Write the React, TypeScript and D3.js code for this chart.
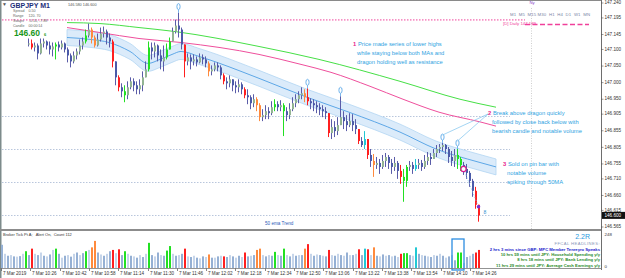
import * as d3 from 'd3';

// ---- data ----
const firstOpen = 147.115;
const closes = [
  147.118, 147.106, 147.112, 147.088, 147.118, 147.124, 147.112, 147.100, 147.109, 147.115,
  147.106, 147.118, 147.100, 147.082, 147.064, 147.082, 147.094, 147.112, 147.124, 147.142,
  147.160, 147.136, 147.112, 147.130, 147.148, 147.154, 147.136, 147.124, 147.064, 147.016,
  146.986, 146.974, 146.962, 146.986, 147.004, 146.992, 146.980, 146.992, 147.016, 147.040,
  147.106, 147.094, 147.112, 147.082, 147.064, 147.076, 147.100, 147.124, 147.154, 147.172,
  147.160, 147.115, 147.064, 147.076, 147.064, 147.070, 147.061, 147.076, 147.070, 147.058,
  147.034, 147.040, 147.052, 147.046, 147.022, 147.004, 146.998, 147.010, 146.992, 146.986,
  146.995, 146.980, 146.962, 146.956, 146.938, 146.950, 146.932, 146.896, 146.902, 146.914,
  146.908, 146.926, 146.935, 146.926, 146.932, 146.914, 146.902, 146.920, 146.938, 146.950,
  146.962, 146.968, 146.956, 146.944, 146.938, 146.932, 146.926, 146.920, 146.914, 146.908,
  146.848, 146.866, 146.854, 146.872, 146.896, 146.884, 146.872, 146.884, 146.872, 146.860,
  146.824, 146.812, 146.830, 146.782, 146.764, 146.752, 146.758, 146.746, 146.764, 146.776,
  146.758, 146.746, 146.758, 146.734, 146.716, 146.704, 146.746, 146.752, 146.740, 146.752,
  146.758, 146.746, 146.764, 146.776, 146.770, 146.788, 146.800, 146.806, 146.812, 146.800,
  146.776, 146.764, 146.782, 146.770, 146.752, 146.740, 146.728, 146.704, 146.674, 146.632,
  146.600,
];
const highs = [
  147.133, 147.130, 147.121, 147.118, 147.133, 147.133, 147.127, 147.124, 147.121, 147.121,
  147.124, 147.127, 147.121, 147.106, 147.088, 147.094, 147.103, 147.130, 147.136, 147.160,
  147.178, 147.166, 147.142, 147.148, 147.166, 147.169, 147.160, 147.148, 147.130, 147.064,
  147.022, 146.998, 146.992, 147.004, 147.016, 147.013, 147.004, 147.010, 147.034, 147.064,
  147.124, 147.121, 147.121, 147.115, 147.100, 147.112, 147.118, 147.136, 147.166, 147.190,
  147.211, 147.166, 147.115, 147.088, 147.085, 147.085, 147.079, 147.088, 147.085, 147.079,
  147.064, 147.052, 147.061, 147.061, 147.052, 147.028, 147.016, 147.022, 147.010, 147.004,
  147.010, 147.001, 146.986, 146.980, 146.962, 146.965, 146.956, 146.938, 146.920, 146.932,
  146.926, 146.944, 146.950, 146.944, 146.947, 146.938, 146.926, 146.938, 146.956, 146.965,
  146.974, 146.986, 146.980, 146.983, 146.953, 146.950, 146.944, 146.938, 146.932, 146.926,
  146.908, 146.890, 146.884, 146.896, 146.959, 146.914, 146.902, 146.908, 146.905, 146.890,
  146.860, 146.836, 146.854, 146.830, 146.800, 146.785, 146.776, 146.770, 146.782, 146.788,
  146.782, 146.770, 146.776, 146.764, 146.752, 146.740, 146.752, 146.764, 146.761, 146.770,
  146.770, 146.767, 146.782, 146.791, 146.788, 146.800, 146.812, 146.815, 146.818, 146.815,
  146.806, 146.794, 146.800, 146.800, 146.776, 146.761, 146.755, 146.734, 146.710, 146.686,
  146.626,
];
const lows = [
  147.109, 147.100, 147.094, 147.070, 147.085, 147.106, 147.100, 147.085, 147.079, 147.070,
  147.094, 147.100, 147.091, 147.061, 147.046, 147.058, 147.070, 147.085, 147.100, 147.118,
  147.136, 147.118, 147.106, 147.109, 147.124, 147.136, 147.115, 147.106, 147.046, 146.992,
  146.974, 146.956, 146.941, 146.950, 146.980, 146.974, 146.965, 146.965, 146.974, 147.022,
  147.034, 147.070, 147.076, 147.064, 147.040, 147.034, 147.070, 147.100, 147.124, 147.148,
  147.136, 147.100, 147.016, 147.052, 147.040, 147.052, 147.049, 147.058, 147.055, 147.046,
  147.019, 147.022, 147.034, 147.034, 147.010, 146.995, 146.980, 146.986, 146.974, 146.968,
  146.971, 146.965, 146.953, 146.935, 146.920, 146.926, 146.914, 146.884, 146.884, 146.890,
  146.890, 146.902, 146.914, 146.914, 146.914, 146.839, 146.884, 146.890, 146.914, 146.926,
  146.938, 146.950, 146.941, 146.932, 146.920, 146.914, 146.908, 146.902, 146.896, 146.890,
  146.836, 146.830, 146.836, 146.842, 146.878, 146.860, 146.854, 146.866, 146.854, 146.845,
  146.815, 146.806, 146.800, 146.770, 146.746, 146.716, 146.740, 146.725, 146.740, 146.746,
  146.740, 146.725, 146.734, 146.710, 146.695, 146.641, 146.686, 146.734, 146.725, 146.734,
  146.740, 146.734, 146.740, 146.752, 146.752, 146.770, 146.776, 146.788, 146.794, 146.785,
  146.758, 146.749, 146.746, 146.740, 146.734, 146.722, 146.710, 146.686, 146.656, 146.620,
  146.581,
];
// candles start at bar 9, earlier bars sit under the info panel
const firstCandleBar = 9;

const volumes = [
  180, 110, 95, 100, 90, 88, 92, 110, 130, 100,
  150, 110, 100, 120, 95, 90, 105, 140, 150, 110,
  80, 95, 100, 88, 110, 120, 100, 115, 130, 140,
  160, 210, 120, 105, 95, 110, 130, 140, 115, 145,
  100, 130, 110, 95, 90, 80, 100, 85, 110, 195,
  100, 90, 120, 100, 95, 135, 170, 110, 95, 100,
  110, 150, 90, 85, 95, 80, 75, 90, 85, 105,
  80, 80, 90, 95, 90, 85, 100, 90, 80, 95,
  85, 120, 90, 95, 100, 140, 150, 100, 90, 100,
  95, 125, 100, 95, 150, 100, 90, 110, 95, 100,
  100, 150, 185, 110, 95, 105, 100, 95, 90, 140,
  100, 95, 110, 100, 95, 120, 100, 100, 110, 145,
  100, 150, 145, 100, 160, 95, 90, 105, 95, 100,
  90, 95, 85, 110, 115, 115, 100, 95, 160, 110,
  100, 95, 90, 85, 100, 95, 110, 95, 80, 90,
  100, 60, 120, 120, 40, 85, 95, 110, 120, 140,
];
// a/b plain volume, r/g/o/c highlighted bars (also colours the candle)
const barTypes = (
  'ababababga' + 'rbabababga' + 'babababagb' + 'ooababarbr' + 'agbabababg' +
  'ababaggbab' + 'arbabababo' + 'ababrababa' + 'brabaoobab' + 'agbagbabab' +
  'aorbababar' + 'bababababr' + 'acrboababa' + 'babrggabca' + 'bababababa' +
  'baggbabarr'
).split('');

const greenMaBars = [13, 24, 37, 49, 77, 97, 124, 144, 156];
const greenMa = [147.181, 147.178, 147.166, 147.154, 147.109, 147.070, 147.004, 146.950, 146.926];
const pinkMaBars = [13, 24, 37, 51, 77, 91, 101, 114, 125, 137, 151, 156];
const pinkMa = [147.166, 147.151, 147.133, 147.121, 147.085, 147.055, 147.031, 146.989, 146.950, 146.911, 146.881, 146.869];

const dragonBars = [13, 21, 27, 34, 40, 44, 48, 51, 57, 63, 71, 77, 93, 107, 124, 136, 150, 156];
const dragonMid = [147.136, 147.130, 147.121, 147.094, 147.058, 147.070, 147.085, 147.094, 147.079, 147.061, 147.034, 147.013, 146.956, 146.911, 146.851, 146.800, 146.761, 146.746];
const dragonUpper = [147.160, 147.154, 147.145, 147.118, 147.082, 147.094, 147.109, 147.118, 147.103, 147.085, 147.058, 147.037, 146.980, 146.935, 146.875, 146.824, 146.785, 146.770];
const dragonLower = [147.112, 147.106, 147.097, 147.070, 147.034, 147.046, 147.061, 147.070, 147.055, 147.037, 147.010, 146.989, 146.932, 146.887, 146.827, 146.776, 146.737, 146.722];

const priceTicks = ['147.240', '147.195', '147.145', '147.100', '147.050', '147.000', '146.950', '146.905', '146.855', '146.805', '146.755', '146.710', '146.660', '146.615', '146.565'];
const roundLevels = [146.9, 146.8, 146.7, 146.6];
const dailyLevel = 147.189;
const lastPrice = 146.6;

const timeLabels = ['7 Mar 2019', '7 Mar 10:26', '7 Mar 10:42', '7 Mar 10:58', '7 Mar 11:14', '7 Mar 11:30', '7 Mar 11:46', '7 Mar 12:02', '7 Mar 12:18', '7 Mar 12:34', '7 Mar 12:50', '7 Mar 13:06', '7 Mar 13:22', '7 Mar 13:38', '7 Mar 13:54', '7 Mar 14:10', '7 Mar 14:26'];
const barsPerLabel = 9.77;
const nySessionBar = 176.7;

const fractalCandles = [50, 93, 104, 138, 143];
const pinCandle = 145;
const signalCandle = 150;
const boxBars = [151, 153];

const note1 = ['Price made series of lower highs', 'while staying below both MAs and', 'dragon holding well as resistance'];
const note2 = ['Break above dragon quickly', 'followed by close back below with', 'bearish candle and notable volume'];
const note3 = ['Sold on pin bar with', 'notable volume', 'spiking through 50MA'];
const infoLines = ['Spread    0.50', 'Range     120. 70', 'Swaps     -0.10, -7.88', 'Candle    00:00:14'];
const newsLines = [
  { text: '2 hrs 3 mins since GBP: MPC Member Tenreyro Speaks', color: '#1a1acc' },
  { text: '10 hrs 59 mins until JPY: Household Spending y/y', color: '#2a8a2a' },
  { text: '8 hrs 18 mins until JPY: Bank Lending y/y', color: '#2a8a2a' },
  { text: '11 hrs 29 mins until JPY: Average Cash Earnings y/y', color: '#2a8a2a' },
];
const timeframes = 'M1  M5  M15 M30  H1  H4  D1  W1  MN';

const W = 625;
const H = 278;
const FONT = '"Liberation Sans", Arial, sans-serif';

const special: Record<string, string> = { r: '#ff1f1f', g: '#22e022', o: '#ff8a3d', c: '#22c8d4' };
const volPlain: Record<string, string> = { a: '#95b0d4', b: '#c6d5ea' };

export default function App() {
  const x = d3.scaleLinear().domain([0, 159]).range([1, 478]);
  const y = d3.scaleLinear().domain([146.565, 147.24]).range([227, 3]);
  const v = d3.scaleLinear().domain([0, 248]).range([268, 236]);
  const cx = (bar: number) => Math.round(x(bar));

  const candles = closes.map((c, i) => {
    const bar = i + firstCandleBar;
    const o = i === 0 ? firstOpen : closes[i - 1];
    const t = barTypes[bar];
    const bull = c >= o;
    const col = special[t] || (bull ? '#93b493' : '#4b5aa8');
    return {
      bar, x: cx(bar),
      yH: y(Math.max(highs[i], o, c)), yL: y(Math.min(lows[i], o, c)),
      yT: y(Math.max(o, c)), yB: y(Math.min(o, c)),
      body: col, wick: special[t] || '#5a5ca8',
    };
  });

  const maLine = (bars: number[], vals: number[]) =>
    d3.line<number>().x((_, k) => x(bars[k] + firstCandleBar)).y((d) => y(d)).curve(d3.curveMonotoneX)(vals) || '';
  const band = d3.area<number>()
    .x((_, k) => x(dragonBars[k] + firstCandleBar))
    .y0((_, k) => y(dragonLower[k]))
    .y1((d) => y(d))
    .curve(d3.curveMonotoneX)(dragonUpper) || '';

  const fractals = fractalCandles.map((i) => ({ x: cx(i + firstCandleBar) + 0.5, y: y(highs[i]) }));
  const pin = { x: cx(pinCandle + firstCandleBar) + 0.5, y: y(closes[pinCandle]) };
  const sig = { x: cx(signalCandle + firstCandleBar) + 0.5, y: y(highs[signalCandle]) };
  const nyX = Math.round(x(nySessionBar)) + 0.5;
  const boxX0 = x(boxBars[0]) - 2;
  const boxX1 = x(boxBars[1]) + 4;

  const noteColor = '#2fa3df';
  const numColor = '#e8208a';

  return (
    <svg width={W} height={H} style={{ position: 'fixed', left: 0, top: 0, background: '#fff' }} fontFamily={FONT}>
      {/* round number levels */}
      {roundLevels.map((p) => (
        <line key={p} x1={2} x2={510} y1={Math.round(y(p)) + 0.5} y2={Math.round(y(p)) + 0.5}
          stroke="#b9c6dc" strokeDasharray="1.5,1.5" />
      ))}
      <line x1={2} x2={525} y1={y(dailyLevel)} y2={y(dailyLevel)} stroke="#f0409a" strokeDasharray="1.5,1.5" />
      <line x1={nyX} x2={nyX} y1={8} y2={229} stroke="#cfcfcf" strokeDasharray="1,1.5" />

      {/* dragon */}
      <path d={band} fill="#dbebfa" stroke="#b3d5f3" strokeWidth={0.8} />
      <path d={maLine(dragonBars, dragonMid)} fill="none" stroke="#4f9fe4" strokeWidth={0.9} />
      <path d={maLine(greenMaBars, greenMa)} fill="none" stroke="#46e046" strokeWidth={1} />
      <path d={maLine(pinkMaBars, pinkMa)} fill="none" stroke="#ef4f9c" strokeWidth={1} />

      {/* candles */}
      {candles.map((c) => (
        <g key={c.bar}>
          <line x1={c.x + 0.5} x2={c.x + 0.5} y1={c.yH} y2={c.yL} stroke={c.wick} strokeWidth={1} />
          <rect x={c.x} y={c.yT} width={2} height={Math.max(1, c.yB - c.yT)} fill={c.body} />
        </g>
      ))}

      {/* signal markers */}
      {fractals.map((f, k) => (
        <g key={k}>
          <line x1={f.x} x2={f.x} y1={f.y - 3} y2={f.y} stroke="#5aa6e8" strokeWidth={0.8} />
          <ellipse cx={f.x} cy={f.y - 6} rx={1.6} ry={3} fill="#fff" stroke="#4a9fe6" strokeWidth={0.8} />
        </g>
      ))}
      {fractals.slice(3).map((f, k) => (
        <line key={k} x1={488} y1={114} x2={f.x} y2={f.y - 8} stroke="#7cc3ee" strokeWidth={0.7} />
      ))}
      <line x1={pin.x} y1={pin.y} x2={sig.x} y2={sig.y} stroke="#7cc3ee" strokeWidth={0.7} strokeDasharray="1.5,1.5" />
      <circle cx={pin.x} cy={pin.y} r={2.6} fill="#fff" stroke="#d8208e" strokeWidth={1.2} />
      <circle cx={sig.x} cy={sig.y} r={1.8} fill="#7a2fd0" />
      <text x={sig.x + 5} y={sig.y + 7} fontSize={5} fill="#2f8fd0">8</text>

      {/* annotations */}
      {[{ n: '1', lines: note1, x: 353, y: 44 }, { n: '2', lines: note2, x: 488, y: 113 }, { n: '3', lines: note3, x: 503, y: 164 }].map((a) => (
        <g key={a.n} fontSize={5.8}>
          <text x={a.x} y={a.y} fill={numColor} fontWeight="bold" dominantBaseline="middle">{a.n}</text>
          {a.lines.map((l, k) => (
            <text key={k} x={a.x + (k === 0 ? 5 : 4)} y={a.y + k * 9} fill={noteColor} dominantBaseline="middle">{l}</text>
          ))}
        </g>
      ))}
      <text x={265} y={225} fontSize={4.6} fill="#2d5cb8">50 ema Trend</text>

      {/* info panel */}
      <text x={2} y={6} fontSize={5} fill="#555">▼</text>
      <text x={10} y={8} fontSize={7} fontWeight="bold" fill="#1d2f7a">GBPJPY  M1</text>
      <text x={68} y={6} fontSize={3.8} fill="#555">146.580 146.600</text>
      {infoLines.map((l, k) => (
        <text key={k} x={13} y={11.5 + k * 5} fontSize={3.6} fill="#666" xmlSpace="preserve">{l}</text>
      ))}
      <text x={14} y={36} fontSize={8.5} fontWeight="bold" fill="#1a961a">146.60</text>
      <text x={44} y={36} fontSize={4} fontWeight="bold" fill="#1a961a">6</text>

      {/* top-right widgets */}
      <text x={nyX - 2} y={4} fontSize={4.2} fill="#8a3fc8">Ny</text>
      <text x={510} y={16} fontSize={4.3} fill="#7a85a5" textLength={80} xmlSpace="preserve">{timeframes}</text>
      <text x={503} y={25} fontSize={4.3} fill="#f0409a">[D] Daily 147.189</text>
      <line x1={525} x2={589} y1={y(dailyLevel) + 4.5} y2={y(dailyLevel) + 4.5} stroke="#f0409a" strokeWidth={1.5} strokeDasharray="5,2.5" />

      {/* frame */}
      <line x1={0} x2={602} y1={0.5} y2={0.5} stroke="#8a8a8a" />
      <line x1={0.75} x2={0.75} y1={0} y2={H} stroke="#7d8b8b" strokeWidth={1.5} />
      <line x1={0} x2={602} y1={230} y2={230} stroke="#8c8c8c" strokeWidth={2} />
      <line x1={601.5} x2={601.5} y1={0} y2={270} stroke="#6e6e6e" />

      {/* price axis */}
      {priceTicks.map((t) => {
        const yy = y(+t);
        return (
          <g key={t}>
            <line x1={601} x2={603.5} y1={yy} y2={yy} stroke="#555" strokeWidth={0.6} />
            <text x={604.5} y={yy} fontSize={4.6} fill="#333" dominantBaseline="middle">{t}</text>
          </g>
        );
      })}
      <rect x={602} y={y(lastPrice) - 3.5} width={23} height={7} fill="#111" />
      <text x={604.5} y={y(lastPrice)} fontSize={4.6} fill="#fff" dominantBaseline="middle">{lastPrice.toFixed(3)}</text>

      {/* volume pane */}
      <text x={3} y={236} fontSize={4} fill="#333" xmlSpace="preserve">Broker Tick Pt A;   Alert On,  Count 112</text>
      {volumes.map((val, j) => {
        const t = barTypes[j];
        return (
          <rect key={j} x={cx(j)} y={v(val)} width={2} height={v(0) - v(val)} fill={special[t] || volPlain[t]} />
        );
      })}
      <rect x={boxX0} y={239} width={boxX1 - boxX0} height={31} fill="none" stroke="#2b8de0" strokeWidth={1.3} />
      <text x={604.5} y={236} fontSize={4.4} fill="#333">248</text>
      <text x={604.5} y={268} fontSize={4.4} fill="#333">0</text>
      <text x={590} y={239} fontSize={7} fill="#2a9ae0" textAnchor="end">2.2R</text>
      <text x={600} y={245} fontSize={4.2} fill="#8a96b8" textAnchor="end" letterSpacing={0.4}>FFCAL HEADLINES:</text>
      {newsLines.map((n, k) => (
        <text key={k} x={600} y={251 + k * 5.2} fontSize={4.2} fill={n.color} textAnchor="end" fontWeight="bold">{n.text}</text>
      ))}

      {/* time axis */}
      <line x1={0} x2={602} y1={268.5} y2={268.5} stroke="#777" strokeWidth={0.8} />
      {timeLabels.map((l, k) => {
        const tx = Math.round(x(k * barsPerLabel)) + 0.5;
        return (
          <g key={l}>
            <line x1={tx} x2={tx} y1={268.5} y2={271} stroke="#555" strokeWidth={0.7} />
            <text x={tx + 1.5} y={275} fontSize={4.6} fill="#333">{l}</text>
          </g>
        );
      })}
    </svg>
  );
}
